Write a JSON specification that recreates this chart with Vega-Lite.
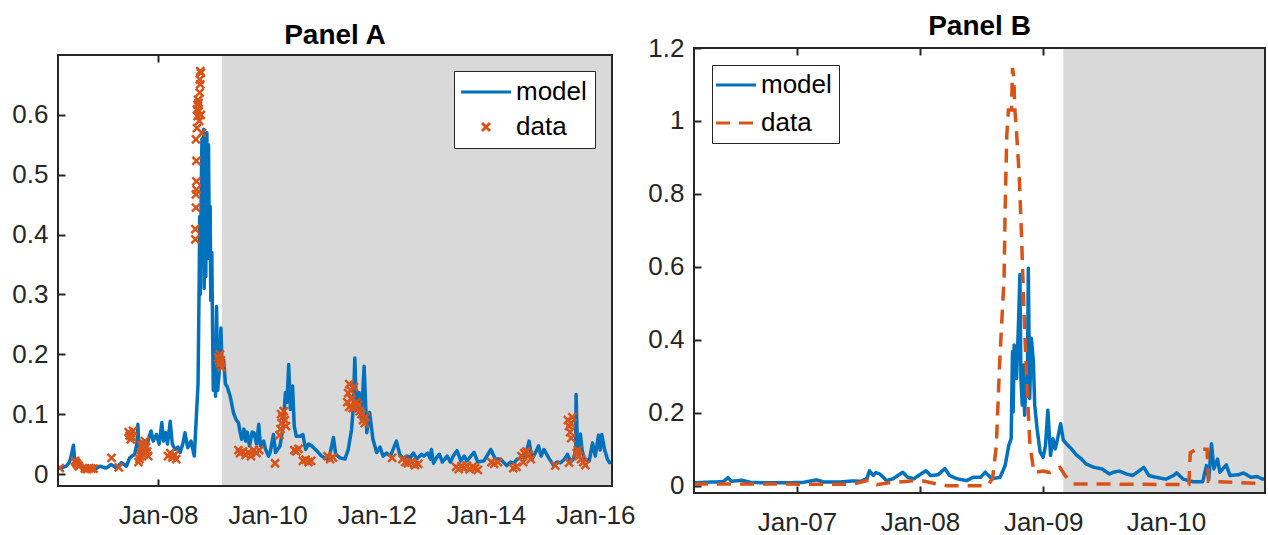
{
  "$schema": "https://vega.github.io/schema/vega-lite/v6.json",
  "background": "white",
  "padding": {"left": 10, "top": -8, "right": 0, "bottom": 0},
  "spacing": 10,
  "center": true,
  "config": {
    "font": "Liberation Sans",
    "view": {"stroke": "#262626", "strokeWidth": 2},
    "style": {"cell": {"strokeForeground": true}},
    "axis": {
      "domain": false,
      "offset": -7,
      "ticks": true,
      "tickColor": "#262626", "tickWidth": 2, "tickSize": 7, "tickOpacity": 1,
      "labelFont": "Liberation Sans", "labelFontSize": 26, "labelColor": "#262626",
      "labelFlush": false, "labelOverlap": false,
      "grid": false, "title": null, "zindex": 2
    },
    "axisLeft": {"labelPadding": 10},
    "axisBottom": {"labelPadding": 16},
    "legend": {
      "labelFont": "Liberation Sans", "labelFontSize": 26, "labelColor": "#000000",
      "fillColor": "white", "strokeColor": "#262626", "padding": 8, "rowPadding": 9,
      "symbolStrokeWidth": 3, "labelLimit": 400, "cornerRadius": 0
    },
    "title": {
      "font": "Liberation Sans", "fontSize": 28, "fontWeight": "bold", "color": "#000000",
      "anchor": "middle", "frame": "group"
    }
  },
  "resolve": {"scale": {"color": "independent", "shape": "independent", "strokeDash": "independent"}},
  "datasets": {
    "a_shade": [{"start": "2009-03-02", "end": "2016-12-31"}],
    "b_shade": [{"start": "2009-03-02", "end": "2010-12-31"}],
    "a_model": [
      {"date": "2006-03-04", "v": 0.011}, {"date": "2006-03-26", "v": 0.0106}, {"date": "2006-04-27", "v": 0.013},
      {"date": "2006-05-19", "v": 0.02}, {"date": "2006-05-30", "v": 0.03}, {"date": "2006-06-14", "v": 0.048},
      {"date": "2006-06-25", "v": 0.019}, {"date": "2006-07-10", "v": 0.024}, {"date": "2006-07-24", "v": 0.019},
      {"date": "2006-08-26", "v": 0.0105}, {"date": "2006-10-02", "v": 0.012}, {"date": "2006-11-04", "v": 0.008},
      {"date": "2006-12-07", "v": 0.013}, {"date": "2007-01-19", "v": 0.01}, {"date": "2007-02-21", "v": 0.016},
      {"date": "2007-03-29", "v": 0.01}, {"date": "2007-05-01", "v": 0.019}, {"date": "2007-06-03", "v": 0.013},
      {"date": "2007-06-25", "v": 0.027}, {"date": "2007-07-28", "v": 0.033}, {"date": "2007-08-12", "v": 0.05},
      {"date": "2007-08-19", "v": 0.083}, {"date": "2007-08-26", "v": 0.04}, {"date": "2007-09-06", "v": 0.035},
      {"date": "2007-09-28", "v": 0.055}, {"date": "2007-10-16", "v": 0.044}, {"date": "2007-10-31", "v": 0.06},
      {"date": "2007-11-15", "v": 0.072}, {"date": "2007-11-29", "v": 0.055}, {"date": "2007-12-21", "v": 0.066},
      {"date": "2008-01-08", "v": 0.05}, {"date": "2008-01-26", "v": 0.086}, {"date": "2008-02-06", "v": 0.055},
      {"date": "2008-02-21", "v": 0.069}, {"date": "2008-03-04", "v": 0.05}, {"date": "2008-03-22", "v": 0.088},
      {"date": "2008-04-05", "v": 0.05}, {"date": "2008-04-24", "v": 0.041}, {"date": "2008-05-12", "v": 0.045},
      {"date": "2008-05-27", "v": 0.036}, {"date": "2008-06-14", "v": 0.05}, {"date": "2008-06-29", "v": 0.069},
      {"date": "2008-07-17", "v": 0.044}, {"date": "2008-08-08", "v": 0.055}, {"date": "2008-08-30", "v": 0.03},
      {"date": "2008-09-13", "v": 0.097}, {"date": "2008-09-24", "v": 0.15}, {"date": "2008-10-02", "v": 0.33},
      {"date": "2008-10-05", "v": 0.43}, {"date": "2008-10-09", "v": 0.3}, {"date": "2008-10-13", "v": 0.42},
      {"date": "2008-10-20", "v": 0.56}, {"date": "2008-10-24", "v": 0.35}, {"date": "2008-10-31", "v": 0.576},
      {"date": "2008-11-04", "v": 0.31}, {"date": "2008-11-11", "v": 0.55}, {"date": "2008-11-15", "v": 0.33},
      {"date": "2008-11-22", "v": 0.57}, {"date": "2008-11-26", "v": 0.36}, {"date": "2008-12-03", "v": 0.55},
      {"date": "2008-12-07", "v": 0.42}, {"date": "2008-12-14", "v": 0.447}, {"date": "2008-12-18", "v": 0.29},
      {"date": "2008-12-25", "v": 0.37}, {"date": "2009-01-01", "v": 0.2}, {"date": "2009-01-04", "v": 0.14},
      {"date": "2009-01-12", "v": 0.2}, {"date": "2009-01-19", "v": 0.13}, {"date": "2009-01-26", "v": 0.28},
      {"date": "2009-02-02", "v": 0.14}, {"date": "2009-02-13", "v": 0.17}, {"date": "2009-02-24", "v": 0.244},
      {"date": "2009-03-04", "v": 0.18}, {"date": "2009-03-15", "v": 0.19}, {"date": "2009-03-26", "v": 0.15},
      {"date": "2009-04-05", "v": 0.147}, {"date": "2009-04-27", "v": 0.13}, {"date": "2009-05-19", "v": 0.102},
      {"date": "2009-06-07", "v": 0.09}, {"date": "2009-06-21", "v": 0.086}, {"date": "2009-07-02", "v": 0.07},
      {"date": "2009-07-13", "v": 0.058}, {"date": "2009-07-28", "v": 0.075}, {"date": "2009-08-08", "v": 0.055},
      {"date": "2009-08-19", "v": 0.07}, {"date": "2009-09-03", "v": 0.047}, {"date": "2009-09-21", "v": 0.07},
      {"date": "2009-10-05", "v": 0.068}, {"date": "2009-10-20", "v": 0.05}, {"date": "2009-11-04", "v": 0.083},
      {"date": "2009-11-15", "v": 0.047}, {"date": "2009-12-07", "v": 0.055}, {"date": "2009-12-18", "v": 0.042},
      {"date": "2010-01-08", "v": 0.03}, {"date": "2010-01-19", "v": 0.036}, {"date": "2010-02-10", "v": 0.066},
      {"date": "2010-02-24", "v": 0.036}, {"date": "2010-03-26", "v": 0.047}, {"date": "2010-04-16", "v": 0.08},
      {"date": "2010-05-01", "v": 0.136}, {"date": "2010-05-12", "v": 0.12}, {"date": "2010-05-23", "v": 0.183},
      {"date": "2010-06-03", "v": 0.108}, {"date": "2010-06-18", "v": 0.147}, {"date": "2010-06-29", "v": 0.08},
      {"date": "2010-07-13", "v": 0.063}, {"date": "2010-08-08", "v": 0.063}, {"date": "2010-08-26", "v": 0.066},
      {"date": "2010-09-13", "v": 0.041}, {"date": "2010-10-02", "v": 0.05}, {"date": "2010-10-24", "v": 0.047},
      {"date": "2010-11-26", "v": 0.039}, {"date": "2010-12-28", "v": 0.03}, {"date": "2011-02-02", "v": 0.025},
      {"date": "2011-02-24", "v": 0.035}, {"date": "2011-03-18", "v": 0.061}, {"date": "2011-04-02", "v": 0.033},
      {"date": "2011-05-01", "v": 0.027}, {"date": "2011-06-03", "v": 0.025}, {"date": "2011-06-25", "v": 0.041},
      {"date": "2011-07-17", "v": 0.074}, {"date": "2011-07-28", "v": 0.108}, {"date": "2011-08-08", "v": 0.194},
      {"date": "2011-08-19", "v": 0.108}, {"date": "2011-09-06", "v": 0.136}, {"date": "2011-09-21", "v": 0.09},
      {"date": "2011-10-09", "v": 0.18}, {"date": "2011-10-27", "v": 0.069}, {"date": "2011-11-15", "v": 0.103},
      {"date": "2011-12-07", "v": 0.058}, {"date": "2012-01-01", "v": 0.036}, {"date": "2012-01-23", "v": 0.045},
      {"date": "2012-02-13", "v": 0.03}, {"date": "2012-03-07", "v": 0.035}, {"date": "2012-04-02", "v": 0.03},
      {"date": "2012-05-12", "v": 0.055}, {"date": "2012-06-03", "v": 0.033}, {"date": "2012-06-29", "v": 0.025},
      {"date": "2012-07-21", "v": 0.03}, {"date": "2012-08-12", "v": 0.027}, {"date": "2012-09-03", "v": 0.035},
      {"date": "2012-09-24", "v": 0.025}, {"date": "2012-10-27", "v": 0.033}, {"date": "2012-11-11", "v": 0.03},
      {"date": "2012-12-07", "v": 0.035}, {"date": "2012-12-25", "v": 0.025}, {"date": "2013-01-01", "v": 0.041},
      {"date": "2013-01-15", "v": 0.018}, {"date": "2013-02-06", "v": 0.028}, {"date": "2013-02-24", "v": 0.033},
      {"date": "2013-03-15", "v": 0.02}, {"date": "2013-04-16", "v": 0.03}, {"date": "2013-05-08", "v": 0.02},
      {"date": "2013-05-27", "v": 0.03}, {"date": "2013-06-21", "v": 0.039}, {"date": "2013-07-17", "v": 0.022},
      {"date": "2013-08-08", "v": 0.03}, {"date": "2013-08-26", "v": 0.022}, {"date": "2013-10-13", "v": 0.036},
      {"date": "2013-11-07", "v": 0.02}, {"date": "2013-12-18", "v": 0.022}, {"date": "2014-02-02", "v": 0.041},
      {"date": "2014-03-04", "v": 0.025}, {"date": "2014-04-05", "v": 0.025}, {"date": "2014-04-27", "v": 0.02},
      {"date": "2014-05-19", "v": 0.014}, {"date": "2014-06-14", "v": 0.02}, {"date": "2014-07-06", "v": 0.018},
      {"date": "2014-07-28", "v": 0.025}, {"date": "2014-08-19", "v": 0.027}, {"date": "2014-09-21", "v": 0.03},
      {"date": "2014-10-16", "v": 0.055}, {"date": "2014-11-04", "v": 0.025}, {"date": "2014-11-26", "v": 0.035},
      {"date": "2014-12-18", "v": 0.047}, {"date": "2015-01-04", "v": 0.03}, {"date": "2015-01-23", "v": 0.041},
      {"date": "2015-02-24", "v": 0.027}, {"date": "2015-03-29", "v": 0.014}, {"date": "2015-04-20", "v": 0.02},
      {"date": "2015-05-16", "v": 0.019}, {"date": "2015-06-10", "v": 0.025}, {"date": "2015-06-29", "v": 0.033},
      {"date": "2015-07-21", "v": 0.02}, {"date": "2015-08-08", "v": 0.025}, {"date": "2015-08-23", "v": 0.04},
      {"date": "2015-08-26", "v": 0.133}, {"date": "2015-09-03", "v": 0.05}, {"date": "2015-09-13", "v": 0.036},
      {"date": "2015-09-24", "v": 0.067}, {"date": "2015-10-05", "v": 0.04}, {"date": "2015-10-20", "v": 0.025},
      {"date": "2015-11-22", "v": 0.022}, {"date": "2015-12-14", "v": 0.052}, {"date": "2016-01-01", "v": 0.03},
      {"date": "2016-01-23", "v": 0.065}, {"date": "2016-02-03", "v": 0.04}, {"date": "2016-02-14", "v": 0.066},
      {"date": "2016-03-04", "v": 0.04}, {"date": "2016-03-22", "v": 0.025}, {"date": "2016-04-05", "v": 0.019},
      {"date": "2016-04-23", "v": 0.02}
    ],
    "a_data": [
      {"date": "2006-03-15", "v": 0.01},
      {"date": "2006-06-25", "v": 0.022}, {"date": "2006-07-02", "v": 0.019}, {"date": "2006-07-10", "v": 0.016}, {"date": "2006-07-21", "v": 0.013},
      {"date": "2006-08-30", "v": 0.009}, {"date": "2006-09-13", "v": 0.008}, {"date": "2006-09-28", "v": 0.01}, {"date": "2006-10-13", "v": 0.009}, {"date": "2006-10-27", "v": 0.009},
      {"date": "2007-02-24", "v": 0.027}, {"date": "2007-04-13", "v": 0.011},
      {"date": "2007-06-18", "v": 0.07}, {"date": "2007-06-25", "v": 0.064}, {"date": "2007-07-02", "v": 0.058}, {"date": "2007-07-10", "v": 0.062}, {"date": "2007-07-17", "v": 0.072},
      {"date": "2007-08-23", "v": 0.02}, {"date": "2007-08-30", "v": 0.025}, {"date": "2007-09-06", "v": 0.03}, {"date": "2007-09-13", "v": 0.035}, {"date": "2007-09-21", "v": 0.045},
      {"date": "2007-09-28", "v": 0.05}, {"date": "2007-10-05", "v": 0.055}, {"date": "2007-10-13", "v": 0.045}, {"date": "2007-10-20", "v": 0.038}, {"date": "2007-10-27", "v": 0.03}, {"date": "2007-09-13", "v": 0.048},
      {"date": "2008-03-07", "v": 0.03}, {"date": "2008-03-22", "v": 0.035}, {"date": "2008-04-05", "v": 0.028}, {"date": "2008-04-20", "v": 0.032}, {"date": "2008-05-01", "v": 0.025},
      {"date": "2008-09-06", "v": 0.392}, {"date": "2008-09-06", "v": 0.409}, {"date": "2008-09-10", "v": 0.445}, {"date": "2008-09-10", "v": 0.467},
      {"date": "2008-09-13", "v": 0.475}, {"date": "2008-09-13", "v": 0.489}, {"date": "2008-09-13", "v": 0.523}, {"date": "2008-09-10", "v": 0.559},
      {"date": "2008-09-17", "v": 0.578}, {"date": "2008-09-21", "v": 0.598}, {"date": "2008-09-17", "v": 0.609}, {"date": "2008-09-21", "v": 0.617},
      {"date": "2008-09-28", "v": 0.606}, {"date": "2008-10-02", "v": 0.59}, {"date": "2008-10-20", "v": 0.57}, {"date": "2008-10-13", "v": 0.6},
      {"date": "2008-10-05", "v": 0.637}, {"date": "2008-10-09", "v": 0.651}, {"date": "2008-10-05", "v": 0.659}, {"date": "2008-10-13", "v": 0.67},
      {"date": "2008-10-09", "v": 0.673}, {"date": "2008-09-28", "v": 0.62}, {"date": "2008-09-24", "v": 0.625},
      {"date": "2009-02-06", "v": 0.195}, {"date": "2009-02-13", "v": 0.19}, {"date": "2009-02-21", "v": 0.185}, {"date": "2009-02-28", "v": 0.178}, {"date": "2009-02-17", "v": 0.2}, {"date": "2009-02-24", "v": 0.19},
      {"date": "2009-06-21", "v": 0.04}, {"date": "2009-07-02", "v": 0.035}, {"date": "2009-07-21", "v": 0.038}, {"date": "2009-08-08", "v": 0.032}, {"date": "2009-08-26", "v": 0.036},
      {"date": "2009-09-13", "v": 0.03}, {"date": "2009-10-02", "v": 0.04}, {"date": "2009-10-20", "v": 0.035}, {"date": "2009-11-07", "v": 0.04},
      {"date": "2010-02-21", "v": 0.018},
      {"date": "2010-03-22", "v": 0.065}, {"date": "2010-03-29", "v": 0.075}, {"date": "2010-04-05", "v": 0.085}, {"date": "2010-04-13", "v": 0.095}, {"date": "2010-04-20", "v": 0.105},
      {"date": "2010-04-27", "v": 0.09}, {"date": "2010-05-05", "v": 0.08}, {"date": "2010-04-02", "v": 0.1},
      {"date": "2010-06-29", "v": 0.04}, {"date": "2010-07-13", "v": 0.038}, {"date": "2010-07-28", "v": 0.042},
      {"date": "2010-08-26", "v": 0.022}, {"date": "2010-09-13", "v": 0.024}, {"date": "2010-10-02", "v": 0.02}, {"date": "2010-10-20", "v": 0.022},
      {"date": "2011-02-06", "v": 0.03}, {"date": "2011-02-24", "v": 0.025}, {"date": "2011-03-15", "v": 0.028},
      {"date": "2011-06-18", "v": 0.12}, {"date": "2011-06-25", "v": 0.135}, {"date": "2011-07-02", "v": 0.15}, {"date": "2011-07-10", "v": 0.14},
      {"date": "2011-07-17", "v": 0.125}, {"date": "2011-07-24", "v": 0.11}, {"date": "2011-08-01", "v": 0.145}, {"date": "2011-07-02", "v": 0.112},
      {"date": "2011-08-19", "v": 0.12}, {"date": "2011-08-30", "v": 0.115}, {"date": "2011-09-10", "v": 0.105}, {"date": "2011-09-21", "v": 0.1},
      {"date": "2011-10-02", "v": 0.09}, {"date": "2011-10-13", "v": 0.085}, {"date": "2011-10-20", "v": 0.095},
      {"date": "2012-04-13", "v": 0.027},
      {"date": "2012-06-21", "v": 0.025}, {"date": "2012-07-10", "v": 0.02}, {"date": "2012-07-28", "v": 0.018},
      {"date": "2012-08-19", "v": 0.02}, {"date": "2012-09-13", "v": 0.015}, {"date": "2012-10-05", "v": 0.017},
      {"date": "2013-06-14", "v": 0.012}, {"date": "2013-07-02", "v": 0.008}, {"date": "2013-07-21", "v": 0.013}, {"date": "2013-08-08", "v": 0.01},
      {"date": "2013-08-26", "v": 0.014}, {"date": "2013-09-13", "v": 0.008}, {"date": "2013-10-02", "v": 0.012}, {"date": "2013-10-20", "v": 0.01}, {"date": "2013-11-07", "v": 0.007},
      {"date": "2014-02-06", "v": 0.02}, {"date": "2014-02-24", "v": 0.017}, {"date": "2014-03-22", "v": 0.02},
      {"date": "2014-07-02", "v": 0.01}, {"date": "2014-07-24", "v": 0.012},
      {"date": "2014-08-26", "v": 0.03}, {"date": "2014-09-13", "v": 0.035}, {"date": "2014-09-28", "v": 0.038}, {"date": "2014-10-13", "v": 0.032}, {"date": "2014-10-27", "v": 0.025}, {"date": "2014-09-06", "v": 0.02},
      {"date": "2015-04-09", "v": 0.014}, {"date": "2015-07-10", "v": 0.019},
      {"date": "2015-07-02", "v": 0.09}, {"date": "2015-07-10", "v": 0.08}, {"date": "2015-07-17", "v": 0.07}, {"date": "2015-07-24", "v": 0.06}, {"date": "2015-08-01", "v": 0.095}, {"date": "2015-07-21", "v": 0.085},
      {"date": "2015-08-30", "v": 0.035}, {"date": "2015-09-13", "v": 0.03}, {"date": "2015-09-28", "v": 0.025}, {"date": "2015-10-13", "v": 0.02}, {"date": "2015-10-27", "v": 0.015}, {"date": "2015-09-06", "v": 0.04}
    ],
    "b_model": [
      {"date": "2006-03-04", "v": 0.008}, {"date": "2006-04-20", "v": 0.01}, {"date": "2006-05-27", "v": 0.011},
      {"date": "2006-06-10", "v": 0.022}, {"date": "2006-06-21", "v": 0.012}, {"date": "2006-07-21", "v": 0.015},
      {"date": "2006-08-15", "v": 0.009}, {"date": "2006-10-02", "v": 0.008}, {"date": "2006-11-26", "v": 0.008},
      {"date": "2007-01-19", "v": 0.009}, {"date": "2007-02-28", "v": 0.016}, {"date": "2007-03-22", "v": 0.01},
      {"date": "2007-05-08", "v": 0.01}, {"date": "2007-06-14", "v": 0.013}, {"date": "2007-07-10", "v": 0.012},
      {"date": "2007-07-28", "v": 0.02}, {"date": "2007-08-04", "v": 0.041}, {"date": "2007-08-15", "v": 0.028},
      {"date": "2007-08-23", "v": 0.036}, {"date": "2007-09-04", "v": 0.032}, {"date": "2007-09-24", "v": 0.014},
      {"date": "2007-10-13", "v": 0.019}, {"date": "2007-11-11", "v": 0.037}, {"date": "2007-11-26", "v": 0.023},
      {"date": "2007-12-14", "v": 0.019}, {"date": "2007-12-28", "v": 0.028}, {"date": "2008-01-19", "v": 0.041},
      {"date": "2008-02-02", "v": 0.028}, {"date": "2008-02-24", "v": 0.03}, {"date": "2008-03-15", "v": 0.047},
      {"date": "2008-03-29", "v": 0.028}, {"date": "2008-04-20", "v": 0.019}, {"date": "2008-05-19", "v": 0.014},
      {"date": "2008-06-07", "v": 0.023}, {"date": "2008-06-29", "v": 0.023}, {"date": "2008-07-13", "v": 0.037},
      {"date": "2008-08-01", "v": 0.019}, {"date": "2008-08-26", "v": 0.023}, {"date": "2008-09-10", "v": 0.055},
      {"date": "2008-09-21", "v": 0.11}, {"date": "2008-09-28", "v": 0.129}, {"date": "2008-10-02", "v": 0.368},
      {"date": "2008-10-04", "v": 0.202}, {"date": "2008-10-07", "v": 0.386}, {"date": "2008-10-14", "v": 0.294},
      {"date": "2008-10-20", "v": 0.45}, {"date": "2008-10-24", "v": 0.579}, {"date": "2008-10-27", "v": 0.294},
      {"date": "2008-10-31", "v": 0.221}, {"date": "2008-11-04", "v": 0.331}, {"date": "2008-11-07", "v": 0.193},
      {"date": "2008-11-11", "v": 0.294}, {"date": "2008-11-15", "v": 0.248}, {"date": "2008-11-18", "v": 0.596},
      {"date": "2008-11-22", "v": 0.239}, {"date": "2008-11-27", "v": 0.404}, {"date": "2008-12-03", "v": 0.34},
      {"date": "2008-12-07", "v": 0.221}, {"date": "2008-12-14", "v": 0.157}, {"date": "2008-12-23", "v": 0.092},
      {"date": "2009-01-01", "v": 0.078}, {"date": "2009-01-08", "v": 0.11}, {"date": "2009-01-15", "v": 0.207},
      {"date": "2009-01-23", "v": 0.083}, {"date": "2009-01-30", "v": 0.129}, {"date": "2009-02-06", "v": 0.101},
      {"date": "2009-02-13", "v": 0.129}, {"date": "2009-02-22", "v": 0.17}, {"date": "2009-03-02", "v": 0.125},
      {"date": "2009-03-11", "v": 0.115}, {"date": "2009-03-26", "v": 0.101}, {"date": "2009-04-09", "v": 0.085},
      {"date": "2009-04-24", "v": 0.074}, {"date": "2009-05-08", "v": 0.06}, {"date": "2009-05-30", "v": 0.051},
      {"date": "2009-06-25", "v": 0.046}, {"date": "2009-07-17", "v": 0.032}, {"date": "2009-07-28", "v": 0.037},
      {"date": "2009-08-15", "v": 0.04}, {"date": "2009-09-06", "v": 0.032}, {"date": "2009-09-24", "v": 0.028},
      {"date": "2009-10-27", "v": 0.05}, {"date": "2009-11-11", "v": 0.028}, {"date": "2009-12-03", "v": 0.023},
      {"date": "2010-01-01", "v": 0.018}, {"date": "2010-01-23", "v": 0.028}, {"date": "2010-02-02", "v": 0.035},
      {"date": "2010-02-21", "v": 0.018}, {"date": "2010-03-22", "v": 0.011}, {"date": "2010-04-20", "v": 0.011},
      {"date": "2010-05-01", "v": 0.055}, {"date": "2010-05-08", "v": 0.018}, {"date": "2010-05-16", "v": 0.115},
      {"date": "2010-05-23", "v": 0.046}, {"date": "2010-06-03", "v": 0.073}, {"date": "2010-06-10", "v": 0.037},
      {"date": "2010-06-29", "v": 0.057}, {"date": "2010-07-10", "v": 0.028}, {"date": "2010-08-04", "v": 0.03},
      {"date": "2010-08-19", "v": 0.035}, {"date": "2010-09-10", "v": 0.023}, {"date": "2010-09-28", "v": 0.025},
      {"date": "2010-10-16", "v": 0.018}, {"date": "2010-10-27", "v": 0.02}
    ],
    "b_data": [
      {"date": "2006-03-01", "v": 0.005}, {"date": "2007-06-15", "v": 0.004}, {"date": "2007-08-01", "v": 0.015},
      {"date": "2007-08-26", "v": 0.003}, {"date": "2007-10-01", "v": 0.008}, {"date": "2007-11-26", "v": 0.012},
      {"date": "2008-01-01", "v": 0.015}, {"date": "2008-02-24", "v": 0.004}, {"date": "2008-03-20", "v": 0.0},
      {"date": "2008-07-20", "v": 0.0}, {"date": "2008-08-04", "v": 0.02}, {"date": "2008-08-15", "v": 0.11},
      {"date": "2008-08-25", "v": 0.34}, {"date": "2008-09-07", "v": 0.57}, {"date": "2008-09-10", "v": 0.75},
      {"date": "2008-09-15", "v": 0.96}, {"date": "2008-09-20", "v": 1.03}, {"date": "2008-09-29", "v": 1.03},
      {"date": "2008-10-02", "v": 1.145}, {"date": "2008-10-06", "v": 1.12}, {"date": "2008-10-09", "v": 1.03},
      {"date": "2008-10-14", "v": 0.97}, {"date": "2008-10-22", "v": 0.85}, {"date": "2008-10-29", "v": 0.68},
      {"date": "2008-11-05", "v": 0.48}, {"date": "2008-11-13", "v": 0.29}, {"date": "2008-11-23", "v": 0.11},
      {"date": "2008-12-05", "v": 0.036}, {"date": "2009-01-01", "v": 0.04}, {"date": "2009-01-21", "v": 0.036},
      {"date": "2009-02-20", "v": 0.05}, {"date": "2009-03-07", "v": 0.028}, {"date": "2009-03-31", "v": 0.005},
      {"date": "2010-03-10", "v": 0.003}, {"date": "2010-03-14", "v": 0.09}, {"date": "2010-04-01", "v": 0.1},
      {"date": "2010-05-03", "v": 0.1}, {"date": "2010-05-07", "v": 0.012}, {"date": "2010-10-31", "v": 0.005}
    ]
  },
  "hconcat": [
    {
      "width": 554,
      "height": 431,
      "title": {"text": ["", "Panel A"], "lineHeight": 29, "offset": 4},
      "layer": [
        {
          "data": {"name": "a_shade"},
          "mark": {"type": "rect", "color": "#d9d9d9", "clip": true},
          "encoding": {
            "x": {
              "field": "start", "type": "temporal",
              "scale": {"type": "utc", "domain": [{"year": 2006, "month": 3, "date": 3, "utc": true}, {"year": 2016, "month": 4, "date": 22, "utc": true}]},
              "axis": {"orient": "top", "labels": false, "values": [{"year": 2008, "month": 1, "date": 1, "utc": true}, {"year": 2010, "month": 1, "date": 1, "utc": true}, {"year": 2012, "month": 1, "date": 1, "utc": true}, {"year": 2014, "month": 1, "date": 1, "utc": true}, {"year": 2016, "month": 1, "date": 1, "utc": true}]}
            },
            "x2": {"field": "end"}
          }
        },
        {
          "data": {"name": "a_model"},
          "mark": {"type": "line", "strokeWidth": 3.5, "clip": true, "strokeJoin": "round"},
          "encoding": {
            "x": {
              "field": "date", "type": "temporal",
              "scale": {"type": "utc", "domain": [{"year": 2006, "month": 3, "date": 3, "utc": true}, {"year": 2016, "month": 4, "date": 22, "utc": true}]},
              "axis": {"orient": "bottom", "format": "%b-%y", "values": [{"year": 2008, "month": 1, "date": 1, "utc": true}, {"year": 2010, "month": 1, "date": 1, "utc": true}, {"year": 2012, "month": 1, "date": 1, "utc": true}, {"year": 2014, "month": 1, "date": 1, "utc": true}, {"year": 2016, "month": 1, "date": 1, "utc": true}]}
            },
            "y": {
              "field": "v", "type": "quantitative",
              "scale": {"domain": [-0.02, 0.7], "nice": false, "zero": false},
              "axis": {"orient": "left", "format": "~g", "values": [0, 0.1, 0.2, 0.3, 0.4, 0.5, 0.6]}
            },
            "color": {
              "datum": "model", "type": "nominal",
              "scale": {"domain": ["model", "data"], "range": ["#0072bd", "#d95319"]},
              "legend": {"title": null, "orient": "none", "legendX": 396, "legendY": 16, "symbolSize": 64, "symbolOffset": 11, "labelOffset": 17, "rowPadding": 9}
            }
          }
        },
        {
          "data": {"name": "a_data"},
          "mark": {"type": "point", "filled": false, "size": 64, "strokeWidth": 2.5, "opacity": 1, "clip": true},
          "encoding": {
            "x": {
              "field": "date", "type": "temporal",
              "scale": {"type": "utc", "domain": [{"year": 2006, "month": 3, "date": 3, "utc": true}, {"year": 2016, "month": 4, "date": 22, "utc": true}]},
              "axis": null
            },
            "y": {
              "field": "v", "type": "quantitative",
              "scale": {"domain": [-0.02, 0.7], "nice": false, "zero": false},
              "axis": {"orient": "right", "labels": false, "values": [0, 0.1, 0.2, 0.3, 0.4, 0.5, 0.6]}
            },
            "color": {
              "datum": "data", "type": "nominal",
              "scale": {"domain": ["model", "data"], "range": ["#0072bd", "#d95319"]},
              "legend": {"title": null, "orient": "none", "legendX": 396, "legendY": 16, "symbolSize": 64, "symbolOffset": 11, "labelOffset": 17, "rowPadding": 9}
            },
            "shape": {
              "datum": "data", "type": "nominal",
              "scale": {"domain": ["model", "data"], "range": ["M-6.25,0L6.25,0", "M-1,-1L1,1M-1,1L1,-1"]},
              "legend": {"title": null, "orient": "none", "legendX": 396, "legendY": 16, "symbolSize": 64, "symbolOffset": 11, "labelOffset": 17, "rowPadding": 9}
            }
          }
        }
      ]
    },
    {
      "width": 571,
      "height": 445,
      "title": {"text": "Panel B", "offset": -6},
      "layer": [
        {
          "data": {"name": "b_shade"},
          "mark": {"type": "rect", "color": "#d9d9d9", "clip": true},
          "encoding": {
            "x": {
              "field": "start", "type": "temporal",
              "scale": {"type": "utc", "domain": [{"year": 2006, "month": 3, "date": 1, "utc": true}, {"year": 2010, "month": 10, "date": 22, "utc": true}]},
              "axis": {"orient": "top", "labels": false, "values": [{"year": 2007, "month": 1, "date": 1, "utc": true}, {"year": 2008, "month": 1, "date": 1, "utc": true}, {"year": 2009, "month": 1, "date": 1, "utc": true}, {"year": 2010, "month": 1, "date": 1, "utc": true}]}
            },
            "x2": {"field": "end"}
          }
        },
        {
          "data": {"name": "b_model"},
          "mark": {"type": "line", "strokeWidth": 3.5, "clip": true, "strokeJoin": "round"},
          "encoding": {
            "x": {
              "field": "date", "type": "temporal",
              "scale": {"type": "utc", "domain": [{"year": 2006, "month": 3, "date": 1, "utc": true}, {"year": 2010, "month": 10, "date": 22, "utc": true}]},
              "axis": {"orient": "bottom", "format": "%b-%y", "values": [{"year": 2007, "month": 1, "date": 1, "utc": true}, {"year": 2008, "month": 1, "date": 1, "utc": true}, {"year": 2009, "month": 1, "date": 1, "utc": true}, {"year": 2010, "month": 1, "date": 1, "utc": true}]}
            },
            "y": {
              "field": "v", "type": "quantitative",
              "scale": {"domain": [-0.02, 1.2], "nice": false, "zero": false},
              "axis": {"orient": "left", "format": "~g", "values": [0, 0.2, 0.4, 0.6, 0.8, 1, 1.2]}
            },
            "color": {
              "datum": "model", "type": "nominal",
              "scale": {"domain": ["model", "data"], "range": ["#0072bd", "#d95319"]},
              "legend": {"title": null, "orient": "none", "legendX": 18, "legendY": 17, "symbolType": "M-4,0L4,0", "symbolSize": 100, "symbolOffset": 4, "labelOffset": 12, "rowPadding": 12, "padding": 7}
            },
            "strokeDash": {
              "datum": "model", "type": "nominal",
              "scale": {"domain": ["model", "data"], "range": [[1, 0], [14, 9]]},
              "legend": {"title": null, "orient": "none", "legendX": 18, "legendY": 17, "symbolType": "M-4,0L4,0", "symbolSize": 100, "symbolOffset": 4, "labelOffset": 12, "rowPadding": 12, "padding": 7}
            }
          }
        },
        {
          "data": {"name": "b_data"},
          "mark": {"type": "line", "strokeWidth": 3.5, "clip": true},
          "encoding": {
            "x": {
              "field": "date", "type": "temporal",
              "scale": {"type": "utc", "domain": [{"year": 2006, "month": 3, "date": 1, "utc": true}, {"year": 2010, "month": 10, "date": 22, "utc": true}]},
              "axis": null
            },
            "y": {
              "field": "v", "type": "quantitative",
              "scale": {"domain": [-0.02, 1.2], "nice": false, "zero": false},
              "axis": {"orient": "right", "labels": false, "values": [0, 0.2, 0.4, 0.6, 0.8, 1, 1.2]}
            },
            "color": {
              "datum": "data", "type": "nominal",
              "scale": {"domain": ["model", "data"], "range": ["#0072bd", "#d95319"]},
              "legend": {"title": null, "orient": "none", "legendX": 18, "legendY": 17, "symbolType": "M-4,0L4,0", "symbolSize": 100, "symbolOffset": 4, "labelOffset": 12, "rowPadding": 12, "padding": 7}
            },
            "strokeDash": {
              "datum": "data", "type": "nominal",
              "scale": {"domain": ["model", "data"], "range": [[1, 0], [14, 9]]},
              "legend": {"title": null, "orient": "none", "legendX": 18, "legendY": 17, "symbolType": "M-4,0L4,0", "symbolSize": 100, "symbolOffset": 4, "labelOffset": 12, "rowPadding": 12, "padding": 7}
            }
          }
        }
      ]
    }
  ]
}
